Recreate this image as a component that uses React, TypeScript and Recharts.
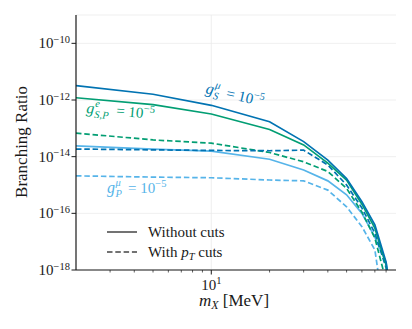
import React from 'react';
import { LineChart, Line, XAxis, YAxis, CartesianGrid, ReferenceLine } from 'recharts';

// dark mass in MeV, sampled points of each curve
const massMeV = [2, 5, 10, 20, 30, 40, 50, 60, 70, 80, 85];

// without cuts (solid)
const brSmuNoCuts = [3.2e-12, 1.6e-12, 6.5e-13, 1.7e-13, 3.4e-14, 7.6e-15, 1.7e-15, 2.6e-16, 3.9e-17, 1.9e-18, 1e-19];
const brSPeNoCuts = [1.2e-12, 6.9e-13, 3.2e-13, 9.1e-14, 2.6e-14, 5.9e-15, 1.5e-15, 2.1e-16, 3.0e-17, 1.5e-18, 8e-20];
const brPmuNoCuts = [2.4e-14, 1.86e-14, 1.58e-14, 8.1e-15, 3.4e-15, 1.4e-15, 4.5e-16, 1.0e-16, 1.45e-17, 1.8e-18, 1e-19];

// with pT cuts (dashed)
const brSmuCuts = [1.86e-14, 1.74e-14, 1.66e-14, 1.62e-14, 1.7e-14, 5.1e-15, 1.0e-15, 1.55e-16, 2.0e-17, 1.2e-18, 5e-20];
const brSPeCuts = [6.8e-14, 3.9e-14, 3.0e-14, 1.4e-14, 6.6e-15, 3.0e-15, 7.6e-16, 1.1e-16, 1.35e-17, 4e-19, 1e-20];
const brPmuCuts = [2.1e-15, 1.9e-15, 1.8e-15, 1.5e-15, 1.4e-15, 6.6e-16, 1.7e-16, 3.4e-17, 5.1e-18, 1e-20, 1e-21];

const xTicks = [3, 4, 5, 6, 7, 8, 9, 10, 20, 30, 40, 50, 60, 70, 80];
const yTicks = [1e-18, 1e-16, 1e-14, 1e-12, 1e-10];

const DARK = '#0173B2';
const GREEN = '#029E73';
const LIGHT = '#56B4E9';
const INK = '#1a1a1a';
const FONT = "'Liberation Serif', 'DejaVu Serif', serif";
const serif = { fontFamily: FONT };

const data = massMeV.map((m, i) => ({
    m,
    smu: brSmuNoCuts[i],
    spe: brSPeNoCuts[i],
    pmu: brPmuNoCuts[i],
    smuCut: brSmuCuts[i],
    speCut: brSPeCuts[i],
    pmuCut: brPmuCuts[i],
}));

const expLabel = (v: number) => {
    const e = Math.round(Math.log10(v));
    return e < 0 ? `\u2212${-e}` : `${e}`;
};

const BottomTick = ({ x, y, payload }: any) => {
    const major = payload.value === 10;
    return (
        <g>
            <line x1={x} x2={x} y1={y} y2={y + (major ? 4.5 : 2.5)} stroke={INK} strokeWidth={major ? 1 : 0.7} />
            {major && (
                <text x={x} y={y + 20} textAnchor="middle" style={serif} fontSize={15} fill={INK}>
                    10<tspan dy={-6} fontSize={10.5}>1</tspan>
                </text>
            )}
        </g>
    );
};

const TopTick = ({ x, y, payload }: any) => {
    const major = payload.value === 10;
    return <line x1={x} x2={x} y1={y} y2={y + (major ? 4.5 : 2.5)} stroke={INK} strokeWidth={major ? 1 : 0.7} />;
};

const LeftTick = ({ x, y, payload }: any) => (
    <g>
        <line x1={x} x2={x - 4.5} y1={y} y2={y} stroke={INK} strokeWidth={1} />
        <text x={x - 6} y={y + 5} textAnchor="end" style={serif} fontSize={15} fill={INK}>
            10<tspan dy={-5.5} fontSize={10.5}>{expLabel(payload.value)}</tspan>
        </text>
    </g>
);

const RightTick = ({ x, y }: any) => <line x1={x} x2={x - 4.5} y1={y} y2={y} stroke={INK} strokeWidth={1} />;

// g^{sup}_{sub} = 10^-5 annotation
const Coupling = ({ x, y, angle, sup, sub, color }: any) => (
    <g transform={`translate(${x},${y}) rotate(${angle})`} fill={color} style={serif}>
        <text x={0} y={0} fontSize={16} fontStyle="italic">g</text>
        <text x={8.5} y={-7} fontSize={10.5} fontStyle="italic">{sup}</text>
        <text x={8.5} y={4} fontSize={10.5} fontStyle="italic">{sub}</text>
        <text x={sub.length > 1 ? 30 : 21} y={0} fontSize={15}>
            = 10<tspan dy={-6} fontSize={10.5}>{'\u22125'}</tspan>
        </text>
    </g>
);

const frame = { stroke: INK, strokeWidth: 1.2 };

export default function App() {
    return (
        <div style={{ position: 'absolute', left: 0, top: 0, width: 412, height: 329, background: '#fff' }}>
            <LineChart width={412} height={329} data={data} margin={{ top: 15, right: 16, bottom: 19, left: 6 }}>
                <CartesianGrid vertical={false} stroke="#ebebeb" strokeWidth={0.8} />
                <ReferenceLine x={10} stroke="#ebebeb" strokeWidth={0.8} />
                <XAxis
                    dataKey="m"
                    type="number"
                    scale="log"
                    domain={[2, 90]}
                    allowDataOverflow
                    ticks={xTicks}
                    interval={0}
                    height={40}
                    tickSize={0}
                    tickMargin={0}
                    axisLine={frame}
                    tickLine={false}
                    tick={<BottomTick />}
                />
                <XAxis
                    xAxisId="top"
                    orientation="top"
                    dataKey="m"
                    type="number"
                    scale="log"
                    domain={[2, 90]}
                    allowDataOverflow
                    ticks={xTicks}
                    interval={0}
                    height={0}
                    tickSize={0}
                    tickMargin={0}
                    axisLine={frame}
                    tickLine={false}
                    tick={<TopTick />}
                />
                <YAxis
                    type="number"
                    scale="log"
                    domain={[1e-18, 1e-9]}
                    allowDataOverflow
                    ticks={yTicks}
                    interval={0}
                    width={70}
                    tickSize={0}
                    tickMargin={0}
                    axisLine={frame}
                    tickLine={false}
                    tick={<LeftTick />}
                />
                <YAxis
                    yAxisId="right"
                    orientation="right"
                    type="number"
                    scale="log"
                    domain={[1e-18, 1e-9]}
                    allowDataOverflow
                    ticks={yTicks}
                    interval={0}
                    width={0}
                    tickSize={0}
                    tickMargin={0}
                    axisLine={frame}
                    tickLine={false}
                    tick={<RightTick />}
                />
                <Line dataKey="pmuCut" stroke={LIGHT} strokeWidth={1.7} strokeDasharray="5.5 2.8" dot={false} isAnimationActive={false} />
                <Line dataKey="pmu" stroke={LIGHT} strokeWidth={1.7} dot={false} isAnimationActive={false} />
                <Line dataKey="speCut" stroke={GREEN} strokeWidth={1.7} strokeDasharray="5.5 2.8" dot={false} isAnimationActive={false} />
                <Line dataKey="smuCut" stroke={DARK} strokeWidth={1.7} strokeDasharray="5.5 2.8" dot={false} isAnimationActive={false} />
                <Line dataKey="spe" stroke={GREEN} strokeWidth={1.7} dot={false} isAnimationActive={false} />
                <Line dataKey="smu" stroke={DARK} strokeWidth={1.7} dot={false} isAnimationActive={false} />
            </LineChart>

            {/* annotations, legend and axis titles */}
            <svg width={412} height={329} style={{ position: 'absolute', left: 0, top: 0, pointerEvents: 'none' }}>
                <Coupling x={205} y={93} angle={13} sup="μ" sub="S" color={DARK} />
                <Coupling x={86} y={113} angle={5} sup="e" sub="S,P" color={GREEN} />
                <Coupling x={107} y={193} angle={0} sup="μ" sub="P" color={LIGHT} />

                <line x1={107} x2={137} y1={232} y2={232} stroke="#444" strokeWidth={1.5} />
                <line x1={107} x2={137} y1={252} y2={252} stroke="#444" strokeWidth={1.5} strokeDasharray="5.5 2.8" />
                <text x={148} y={237} style={serif} fontSize={15} fill={INK}>Without cuts</text>
                <text x={148} y={257} style={serif} fontSize={15} fill={INK}>
                    With <tspan fontStyle="italic">p</tspan>
                    <tspan dy={3} fontSize={10.5} fontStyle="italic">T</tspan>
                    <tspan dy={-3}> cuts</tspan>
                </text>

                <text transform="translate(27,142) rotate(-90)" textAnchor="middle" style={serif} fontSize={17} fill={INK}>
                    Branching Ratio
                </text>
                <text x={234} y={306} textAnchor="middle" style={serif} fontSize={17} fill={INK}>
                    <tspan fontStyle="italic">m</tspan>
                    <tspan dy={3} fontSize={12} fontStyle="italic">X</tspan>
                    <tspan dy={-3}> [MeV]</tspan>
                </text>
            </svg>
        </div>
    );
}
